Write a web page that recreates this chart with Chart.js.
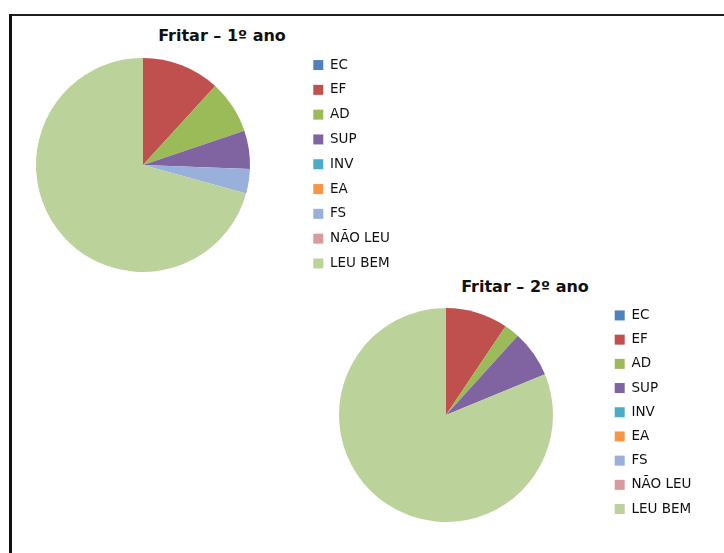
<!DOCTYPE html>
<html>
<head>
<meta charset="utf-8">
<script src="https://cdn.jsdelivr.net/npm/chart.js@4/dist/chart.umd.min.js"></script>
<style>
  html, body { margin: 0; padding: 0; background: #ffffff; width: 724px; height: 553px; overflow: hidden; }
  #frame { position: absolute; left: 9px; top: 14px; width: 730px; height: 560px;
           border-top: 2px solid #1e1e1e; border-left: 3px solid #111; box-sizing: border-box; }
  .title { position: absolute; width: 300px; text-align: center; font-family: "DejaVu Sans", sans-serif;
           font-weight: bold; font-size: 16px; line-height: 20px; color: #111; white-space: nowrap; }
  canvas { position: absolute; }
</style>
</head>
<body>
<div id="frame"></div>
<div class="title" id="t1" style="left:72px; top:26px;"></div>
<div class="title" id="t2" style="left:375px; top:277px;"></div>
<canvas id="c1" width="438" height="236" style="left:-16px; top:47px;"></canvas>
<canvas id="c2" width="436" height="236" style="left:288px; top:297px;"></canvas>
<script>
// ---- data ----
const categories = ['EC', 'EF', 'AD', 'SUP', 'INV', 'EA', 'FS', 'NÃO LEU', 'LEU BEM'];
const ano1Values = [0, 11.8, 8.0, 5.8, 0, 0, 3.7, 0, 70.7];
const ano2Values = [0, 9.4, 2.3, 7.1, 0, 0, 0, 0, 81.2];
const chartTitles = ['Fritar – 1º ano', 'Fritar – 2º ano'];
const sliceColors = ['#4F81BD', '#C0504D', '#9BBB59', '#8064A2', '#4BACC6', '#F79646', '#98B0DA', '#D99A9C', '#BBD29B'];

document.getElementById('t1').textContent = chartTitles[0];
document.getElementById('t2').textContent = chartTitles[1];

function makePie(id, values, legendPad, padTB) {
  return new Chart(document.getElementById(id), {
    type: 'pie',
    data: {
      labels: categories,
      datasets: [{
        data: values,
        backgroundColor: sliceColors,
        borderWidth: 0
      }]
    },
    options: {
      responsive: false,
      animation: false,
      radius: 107,
      layout: { padding: { left: 0, right: 30, top: padTB, bottom: padTB } },
      plugins: {
        title: { display: false },
        tooltip: { enabled: false },
        legend: {
          display: true,
          position: 'right',
          align: 'start',
          maxWidth: 90,
          labels: {
            boxWidth: 10,
            boxHeight: 10,
            padding: legendPad,
            color: '#111111',
            font: { family: '"DejaVu Sans", sans-serif', size: 13.5 }
          }
        }
      }
    }
  });
}

makePie('c1', ano1Values, 11.3, 0);
makePie('c2', ano2Values, 10.7, 1);
</script>
</body>
</html>
